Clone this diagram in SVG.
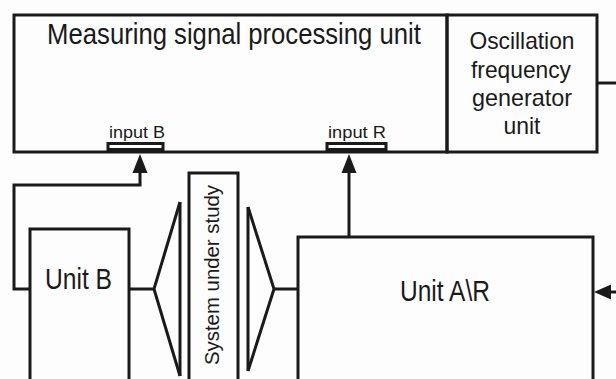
<svg xmlns="http://www.w3.org/2000/svg" width="616" height="379" viewBox="0 0 616 379">
<style>
.box{fill:none;stroke:#1a1a1a;stroke-width:3}
.ln{fill:none;stroke:#1a1a1a;stroke-width:3}
.t{font-family:"Liberation Sans",Arial,sans-serif;fill:#1a1a1a;text-anchor:middle}
.head{fill:#1a1a1a;stroke:none}
</style>
<rect width="616" height="379" fill="#fdfdfd"/>
<g id="measuring-unit">
<rect class="box" x="14" y="15" width="433" height="137"/>
<text class="t" font-size="30" transform="translate(234,44) scale(0.856,1)">Measuring signal processing unit</text>
<rect class="box" x="108" y="143.5" width="55" height="6" stroke-width="2"/>
<text class="t" x="137" y="138" font-size="17" textLength="56" lengthAdjust="spacingAndGlyphs">input B</text>
<rect class="box" x="327" y="143.5" width="59" height="6" stroke-width="2"/>
<text class="t" x="357" y="138" font-size="17" textLength="58" lengthAdjust="spacingAndGlyphs">input R</text>
</g>
<g id="oscillation-unit">
<rect class="box" x="447" y="15" width="150" height="137"/>
<text class="t" x="522" y="49" font-size="24" textLength="105" lengthAdjust="spacingAndGlyphs">Oscillation</text>
<text class="t" x="521" y="77.5" font-size="24" textLength="100" lengthAdjust="spacingAndGlyphs">frequency</text>
<text class="t" x="522" y="106" font-size="24" textLength="100" lengthAdjust="spacingAndGlyphs">generator</text>
<text class="t" x="522" y="134" font-size="24" textLength="37" lengthAdjust="spacingAndGlyphs">unit</text>
</g>
<g id="unit-b">
<rect class="box" x="30" y="229" width="99" height="160"/>
<text class="t" x="78.5" y="289" font-size="29" textLength="67" lengthAdjust="spacingAndGlyphs">Unit B</text>
</g>
<g id="system-under-study">
<rect class="box" x="189" y="173" width="49" height="216"/>
<text class="t" font-size="21" textLength="180" lengthAdjust="spacingAndGlyphs" transform="translate(218.5,275) rotate(-90)">System under study</text>
</g>
<g id="unit-ar">
<rect class="box" x="298" y="237" width="295" height="152"/>
<text class="t" x="445" y="301" font-size="29" textLength="90" lengthAdjust="spacingAndGlyphs">Unit A\R</text>
</g>
<g id="connectors">
<polyline class="ln" points="30,289 14,289 14,185 140,185 140,172"/>
<polygon class="head" points="140,154 132.5,173 147.5,173"/>
<polyline class="ln" points="129,289 154,289"/>
<polyline class="ln" points="180,202 154,289 180,376"/>
<line class="ln" x1="180" y1="202" x2="180" y2="376"/>
<polyline class="ln" points="248,207 274,289 248,371"/>
<line class="ln" x1="248" y1="207" x2="248" y2="371"/>
<line class="ln" x1="274" y1="289" x2="298" y2="289"/>
<line class="ln" x1="349" y1="237" x2="349" y2="172"/>
<polygon class="head" points="349,154 341.5,173 356.5,173"/>
<line class="ln" x1="597" y1="83" x2="616" y2="83"/>
<line class="ln" x1="616" y1="292" x2="609" y2="292"/>
<polygon class="head" points="594,292 611,284.5 611,299.5"/>
</g>
</svg>
